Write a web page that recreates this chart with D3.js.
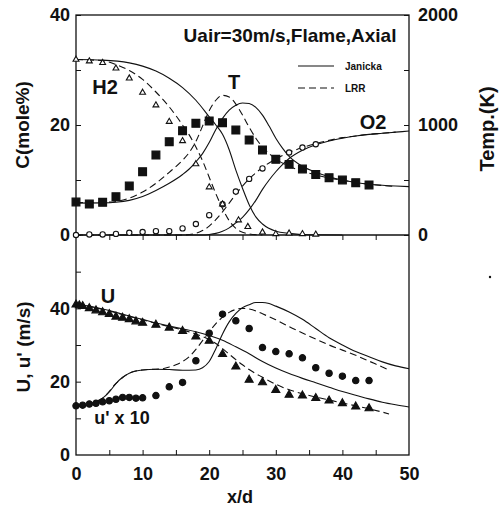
<!DOCTYPE html>
<html>
<head>
<meta charset="utf-8">
<script src="https://cdnjs.cloudflare.com/ajax/libs/d3/7.8.5/d3.min.js"></script>
<style>
  body { margin: 0; background: #fff; }
  svg text { font-family: 'Liberation Sans', Arial, sans-serif; fill: #111; }
</style>
</head>
<body>
<div id="chart"></div>
<script>
// ---- top panel: species (mole %) and temperature (K) ----
const xMeasTop = [0, 2, 4, 6, 8, 10, 12, 14, 16, 18, 20, 22, 24, 26, 28, 30, 32, 34, 36, 38, 40, 42, 44];
const tempMeas = [300, 282, 297, 348, 445, 576, 727, 848, 948, 1015, 1036, 1021, 954, 864, 773, 688, 642, 600, 551, 521, 500, 476, 455];

const xH2Meas = [0, 2, 4, 6, 8, 10, 12, 14, 16, 18, 20, 22, 24.4, 25.8, 28, 30, 32, 34, 36];
const h2Meas = [31.9, 31.6, 31.3, 30.3, 28.5, 25.9, 23.6, 20.6, 17.1, 12.9, 8.7, 5.6, 2.7, 1.5, 0.5, 0.2, 0.3, 0.2, 0.1];

const xO2Meas = [0, 2, 4, 6, 8, 10, 12, 14, 16, 18, 20, 22, 24, 26, 28, 32, 34, 36];
const o2Meas = [0, 0.1, 0.1, 0.2, 0.4, 0.55, 0.7, 0.7, 1.2, 2.0, 3.6, 5.6, 7.9, 10.2, 12.1, 15.0, 15.9, 16.5];

const xTempJan = [0, 4, 6, 8, 10, 12, 14, 16, 17, 18, 19, 20, 21, 22, 23, 24, 25, 26, 27, 28, 29, 30, 31, 32, 34, 36, 38, 40, 42, 44, 46, 48, 50];
const tempJan = [290, 292, 298, 315, 350, 405, 470, 550, 600, 665, 740, 840, 960, 1060, 1135, 1180, 1200, 1195, 1160, 1090, 990, 880, 790, 715, 625, 570, 530, 500, 478, 462, 452, 445, 440];
const xTempLrr = [0, 4, 6, 8, 10, 12, 14, 16, 17, 18, 19, 20, 21, 22, 23, 24, 25, 26, 27, 28, 29, 30, 32, 34, 36, 38, 40, 42, 44, 46, 48];
const tempLrr = [295, 297, 305, 335, 390, 470, 570, 680, 750, 850, 990, 1130, 1225, 1270, 1255, 1190, 1090, 980, 880, 800, 740, 690, 625, 580, 545, 518, 497, 478, 462, 450, 440];

const xH2Jan = [0, 4, 8, 10, 12, 14, 16, 18, 20, 21, 22, 23, 24, 25, 26, 27, 28, 30, 32, 35, 40];
const h2Jan = [31.9, 31.8, 31.3, 30.7, 29.8, 28.5, 26.8, 24.5, 21.5, 20.0, 18.3, 15.5, 11.8, 8.5, 5.5, 3.3, 2.0, 0.7, 0.3, 0.05, 0];
const xH2Lrr = [0, 4, 6, 8, 10, 12, 14, 16, 17, 18, 19, 20, 21, 22, 23, 24, 25, 26, 28];
const h2Lrr = [31.9, 31.7, 31.0, 29.9, 28.3, 26.0, 23.3, 20.0, 18.2, 16.0, 13.5, 10.5, 7.5, 4.8, 2.6, 1.2, 0.5, 0.2, 0];

const xO2Jan = [0, 19, 20, 21, 22, 23, 24, 25, 26, 27, 28, 29, 30, 31, 32, 34, 36, 38, 40, 42, 44, 46, 48, 50];
const o2Jan = [0, 0, 0.1, 0.3, 0.7, 1.3, 2.2, 3.2, 4.6, 6.3, 8.3, 10.0, 11.5, 12.8, 13.9, 15.4, 16.4, 17.1, 17.6, 18.0, 18.3, 18.5, 18.7, 18.9];
const xO2Lrr = [0, 16, 18, 19, 20, 21, 22, 23, 24, 25, 26, 27, 28, 30, 32, 34, 36, 38, 40, 42, 44, 46, 48];
const o2Lrr = [0, 0, 0.3, 0.8, 1.6, 2.8, 4.2, 5.8, 7.4, 8.9, 10.2, 11.3, 12.3, 13.8, 15.0, 15.9, 16.6, 17.2, 17.7, 18.0, 18.3, 18.5, 18.7];

// ---- bottom panel: U and u' x 10 (m/s) ----
const xUMeas = [0, 0.5, 1, 2, 3, 4, 5, 6, 7, 8, 9, 10, 12, 14, 16, 18, 20, 22, 24, 26, 28, 30, 32, 34, 36, 38, 40, 42, 44];
const uMeas = [41.0, 40.8, 40.6, 40.0, 39.4, 38.9, 38.4, 37.7, 37.4, 37.0, 36.4, 36.0, 35.5, 34.7, 33.8, 32.3, 31.1, 27.5, 24.1, 20.5, 19.8, 17.7, 16.4, 16.2, 15.5, 14.8, 14.1, 13.2, 12.7];
const xUrmsMeas = [0, 1, 2, 3, 4, 5, 6, 7, 8, 9, 10, 12, 14, 16, 18, 20, 22, 24, 26, 28, 30, 32, 34, 36, 38, 40, 42, 44];
const urmsMeas = [13.4, 13.6, 13.9, 14.1, 14.5, 14.8, 15.2, 15.7, 15.7, 15.5, 15.6, 16.2, 18.6, 19.8, 25.7, 33.2, 38.4, 36.6, 34.5, 29.3, 28.2, 27.6, 26.5, 23.8, 22.3, 21.5, 20.3, 20.3];

const xUJan = [0, 2, 4, 6, 8, 10, 12, 14, 16, 18, 20, 22, 24, 26, 28, 30, 32, 34, 36, 38, 40, 42, 44, 46, 48, 50];
const uJan = [41.2, 40.6, 39.8, 38.9, 37.9, 37.0, 36.0, 35.2, 34.4, 33.6, 32.6, 31.3, 29.5, 27.6, 25.5, 23.7, 22.2, 20.9, 19.7, 18.5, 17.3, 16.3, 15.3, 14.4, 13.7, 13.1];
const xULrr = [0, 4, 8, 12, 16, 18, 20, 21, 22, 23, 24, 25, 26, 28, 30, 32, 34, 36, 38, 40, 42, 44, 46, 47];
const uLrr = [41.2, 39.7, 37.8, 35.9, 34.1, 33.0, 31.5, 30.4, 29.0, 27.5, 26.0, 24.6, 23.3, 21.2, 19.3, 17.8, 16.7, 15.8, 15.0, 14.2, 13.4, 12.6, 11.7, 11.2];

const xUrmsJan = [0, 2, 3, 4, 5, 6, 7, 8, 9, 10, 12, 14, 16, 18, 19, 20, 21, 22, 23, 24, 25, 26, 27, 28, 29, 30, 32, 34, 36, 38, 40, 42, 44, 46, 48, 50];
const urmsJan = [13.2, 13.8, 14.5, 15.5, 17.2, 19.5, 21.2, 22.3, 22.9, 23.2, 23.4, 23.3, 23.1, 23.2, 23.8, 25.5, 29.0, 33.0, 36.3, 38.6, 40.2, 41.0, 41.6, 41.6, 41.3, 40.6, 39.0, 37.0, 34.5, 32.0, 30.0, 28.2, 26.8, 25.4, 24.3, 23.5];
const xUrmsLrr = [0, 4, 6, 8, 10, 12, 13, 14, 15, 16, 17, 18, 19, 20, 21, 22, 23, 24, 25, 26, 27, 28, 30, 32, 34, 36, 38, 40, 42, 44, 46, 47];
const urmsLrr = [13.2, 15.5, 19.5, 22.3, 23.2, 23.4, 23.5, 24.0, 24.6, 25.5, 26.8, 28.8, 31.2, 33.6, 35.8, 37.6, 38.9, 39.7, 40.0, 39.8, 39.3, 38.5, 36.9, 35.0, 33.3, 31.6, 30.0, 28.6, 27.2, 25.6, 24.0, 23.2];

const xTicks = [0, 5, 10, 15, 20, 25, 30, 35, 40, 45, 50];
const cTicks = [0, 10, 20, 30, 40];
const tempTicks = [0, 500, 1000, 1500, 2000];
const uTicks = [0, 10, 20, 30, 40, 50];

const width = 501;
const height = 509;
const ink = '#111';

const svg = d3.select('#chart')
  .append('svg')
  .attr('width', width)
  .attr('height', height);

const x = d3.scaleLinear().domain([0, 50]).range([76, 409]);
const yC = d3.scaleLinear().domain([0, 40]).range([235, 15]);
const yT = d3.scaleLinear().domain([0, 2000]).range([235, 15]);
const yU = d3.scaleLinear().domain([0, 60]).range([455, 235]);

const zip = (xs, ys) => xs.map((v, i) => [v, ys[i]]);

// frame
svg.append('rect')
  .attr('x', x(0)).attr('y', yC(40))
  .attr('width', x(50) - x(0)).attr('height', yU(0) - yC(40))
  .attr('fill', 'none').attr('stroke', ink).attr('stroke-width', 1.3);
svg.append('line')
  .attr('x1', x(0)).attr('x2', x(50))
  .attr('y1', yC(0)).attr('y2', yC(0))
  .attr('stroke', ink).attr('stroke-width', 1.3);

const styleAxis = (g, size) => {
  g.select('.domain').remove();
  g.selectAll('line').attr('stroke', ink).attr('stroke-width', 1);
  g.selectAll('text').style('font-size', `${size}px`).style('font-weight', 'bold').attr('fill', ink);
};

const label10 = (step) => (d) => (d % step === 0 ? d : '');

svg.append('g')
  .attr('transform', `translate(${x(0)},0)`)
  .call(d3.axisLeft(yC).tickValues(cTicks).tickSize(-5).tickPadding(6).tickFormat(label10(20)))
  .call((g) => styleAxis(g, 18));

svg.append('g')
  .attr('transform', `translate(${x(50)},0)`)
  .call(d3.axisRight(yT).tickValues(tempTicks).tickSize(-5).tickPadding(9).tickFormat(label10(1000)))
  .call((g) => styleAxis(g, 18));

svg.append('g')
  .attr('transform', `translate(${x(0)},0)`)
  .call(d3.axisLeft(yU).tickValues(uTicks).tickSize(-5).tickPadding(6).tickFormat(label10(20)))
  .call((g) => styleAxis(g, 18))
  .call((g) => g.selectAll('.tick').filter((d) => d === 0).select('line').remove());

// x ticks on the middle line (pointing down) and at the bottom
svg.append('g')
  .attr('transform', `translate(0,${yC(0)})`)
  .call(d3.axisBottom(x).tickValues(xTicks.slice(1, -1)).tickSize(5).tickFormat(''))
  .call((g) => styleAxis(g, 18));

svg.append('g')
  .attr('transform', `translate(0,${yU(0)})`)
  .call(d3.axisBottom(x).tickValues(xTicks).tickSize(-5).tickPadding(12).tickFormat(label10(10)))
  .call((g) => styleAxis(g, 18))
  .call((g) => g.selectAll('.tick').filter((d) => d === 0 || d === 50).select('line').remove());

// curves
const drawLine = (pts, xs, ys, dashed) => {
  svg.append('path')
    .datum(pts)
    .attr('fill', 'none')
    .attr('stroke', ink)
    .attr('stroke-width', 1.1)
    .attr('stroke-dasharray', dashed ? '7,4' : null)
    .attr('d', d3.line().x((d) => xs(d[0])).y((d) => ys(d[1])).curve(d3.curveMonotoneX));
};

drawLine(zip(xTempJan, tempJan), x, yT, false);
drawLine(zip(xTempLrr, tempLrr), x, yT, true);
drawLine(zip(xH2Jan, h2Jan), x, yC, false);
drawLine(zip(xH2Lrr, h2Lrr), x, yC, true);
drawLine(zip(xO2Jan, o2Jan), x, yC, false);
drawLine(zip(xO2Lrr, o2Lrr), x, yC, true);
drawLine(zip(xUJan, uJan), x, yU, false);
drawLine(zip(xULrr, uLrr), x, yU, true);
drawLine(zip(xUrmsJan, urmsJan), x, yU, false);
drawLine(zip(xUrmsLrr, urmsLrr), x, yU, true);

// markers
const drawMarks = (pts, xs, ys, type, size, filled) => {
  svg.append('g')
    .selectAll('path')
    .data(pts)
    .join('path')
    .attr('transform', (d) => `translate(${xs(d[0])},${ys(d[1])})`)
    .attr('d', d3.symbol().type(type).size(size))
    .attr('fill', filled ? ink : '#fff')
    .attr('stroke', ink)
    .attr('stroke-width', 1.1);
};

drawMarks(zip(xO2Meas, o2Meas), x, yC, d3.symbolCircle, 22, false);
drawMarks(zip(xH2Meas, h2Meas), x, yC, d3.symbolTriangle, 15, false);
drawMarks(zip(xMeasTop, tempMeas), x, yT, d3.symbolSquare, 62, true);
drawMarks(zip(xUMeas, uMeas), x, yU, d3.symbolTriangle, 28, true);
drawMarks(zip(xUrmsMeas, urmsMeas), x, yU, d3.symbolCircle, 32, true);

// legend
const legend = [['Janicka', false, 66], ['LRR', true, 88]];
legend.forEach(([name, dashed, ly]) => {
  svg.append('line')
    .attr('x1', 298).attr('x2', 334).attr('y1', ly).attr('y2', ly)
    .attr('stroke', ink).attr('stroke-width', 1.1)
    .attr('stroke-dasharray', dashed ? '7,4' : null);
  svg.append('text')
    .attr('x', 345).attr('y', ly).attr('dy', '0.35em')
    .style('font-size', '10px').style('font-weight', 'bold')
    .text(name);
});

// text labels
const addText = (t, tx, ty, size, rotate) => {
  svg.append('text')
    .attr('transform', `translate(${tx},${ty})${rotate ? ' rotate(-90)' : ''}`)
    .attr('text-anchor', 'middle')
    .attr('dy', '0.35em')
    .style('font-size', `${size}px`)
    .style('font-weight', 'bold')
    .text(t);
};

addText('Uair=30m/s,Flame,Axial', 290, 35, 19, false);
addText('H2', 105, 87, 20, false);
addText('T', 234, 82, 20, false);
addText('O2', 373, 122, 20, false);
addText('U', 108, 296, 20, false);
addText("u' x 10", 122, 418, 18, false);
addText('C(mole%)', 22, 125, 19, true);
addText('Temp.(K)', 487, 129, 20, true);
addText("U, u' (m/s)", 23, 347, 19, true);
addText('x/d', 240, 497, 18, false);

// stray speck on the scan
svg.append('circle').attr('cx', 490).attr('cy', 277).attr('r', 1.2).attr('fill', ink);
</script>
</body>
</html>
